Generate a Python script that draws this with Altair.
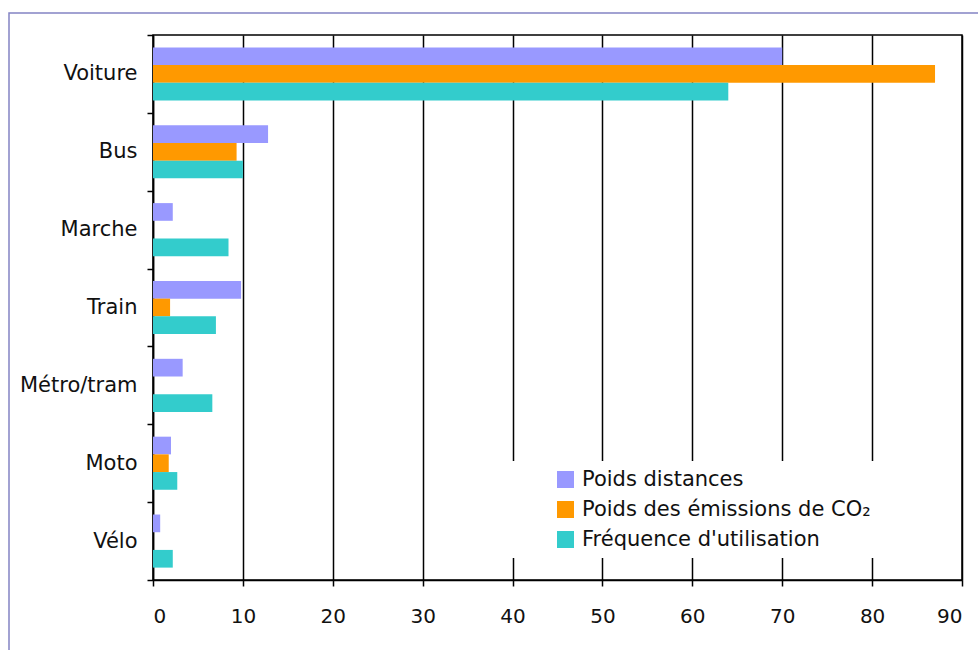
import altair as alt
import pandas as pd

# Transport modes, top to bottom
modes = ["Voiture", "Bus", "Marche", "Train", "Métro/tram", "Moto", "Vélo"]
series = ["Poids distances", "Poids des émissions de CO₂", "Fréquence d'utilisation"]

poids_distances = [70, 12.8, 2.2, 9.8, 3.3, 2.0, 0.8]
poids_co2 = [87, 9.3, 0, 1.9, 0, 1.75, 0]
frequence = [64, 10, 8.4, 7.0, 6.6, 2.7, 2.2]

colors = ["#9999ff", "#ff9900", "#33cccc"]
x_ticks = list(range(0, 91, 10))

rows = []
for name, values in zip(series, [poids_distances, poids_co2, frequence]):
    for mode, v in zip(modes, values):
        rows.append({"mode": mode, "serie": name, "valeur": v})
df = pd.DataFrame(rows)

FONT = "DejaVu Sans"

bars = alt.Chart(df).mark_bar().encode(
    y=alt.Y(
        "mode:N",
        sort=modes,
        title=None,
        scale=alt.Scale(paddingInner=0, paddingOuter=0),
        axis=alt.Axis(
            tickBand="extent",
            tickSize=6,
            tickColor="black",
            tickWidth=1.5,
            domainColor="black",
            domainWidth=1.5,
            labelPadding=10,
            labelFontSize=21,
            labelFont=FONT,
            labelColor="#111",
            grid=False,
        ),
    ),
    yOffset=alt.YOffset(
        "serie:N",
        sort=series,
        scale=alt.Scale(paddingInner=0, paddingOuter=0.7),
    ),
    x=alt.X(
        "valeur:Q",
        title=None,
        scale=alt.Scale(domain=[0, 90], nice=False),
        axis=alt.Axis(
            values=x_ticks,
            grid=True,
            gridColor="black",
            gridWidth=1.5,
            gridOpacity=1,
            tickSize=6,
            tickColor="black",
            tickWidth=1.5,
            domainColor="black",
            domainWidth=1.5,
            labelPadding=20,
            labelFontSize=20,
            labelFont=FONT,
            labelColor="#111",
        ),
    ),
    color=alt.Color(
        "serie:N",
        sort=series,
        scale=alt.Scale(domain=series, range=colors),
        legend=alt.Legend(
            title=None,
            orient="none",
            legendX=352,
            legendY=426,
            fillColor="white",
            padding=8,
            symbolType="square",
            symbolSize=289,
            symbolStrokeWidth=0,
            symbolOpacity=1,
            symbolOffset=42,
            labelOffset=6,
            labelFontSize=21,
            labelFont=FONT,
            labelColor="#111",
            rowPadding=8,
            labelLimit=400,
        ),
    ),
)

# Thin outer frame around the whole figure
frame = alt.Chart(pd.DataFrame({"k": [0]})).mark_rect(
    filled=False, stroke="#8484c4", strokeWidth=1.5
).encode(
    x=alt.value(-144),
    x2=alt.value(840),
    y=alt.value(-22),
    y2=alt.value(640),
)

chart = (
    alt.layer(frame, bars)
    .properties(
        width=809,
        height=545,
        autosize="none",
        padding={"left": 153, "top": 35, "right": 16, "bottom": 70},
        background="white",
    )
    .configure_view(stroke="black", strokeWidth=1.5)
)

chart.save("out.html", embed_options={"renderer": "svg", "actions": False})
